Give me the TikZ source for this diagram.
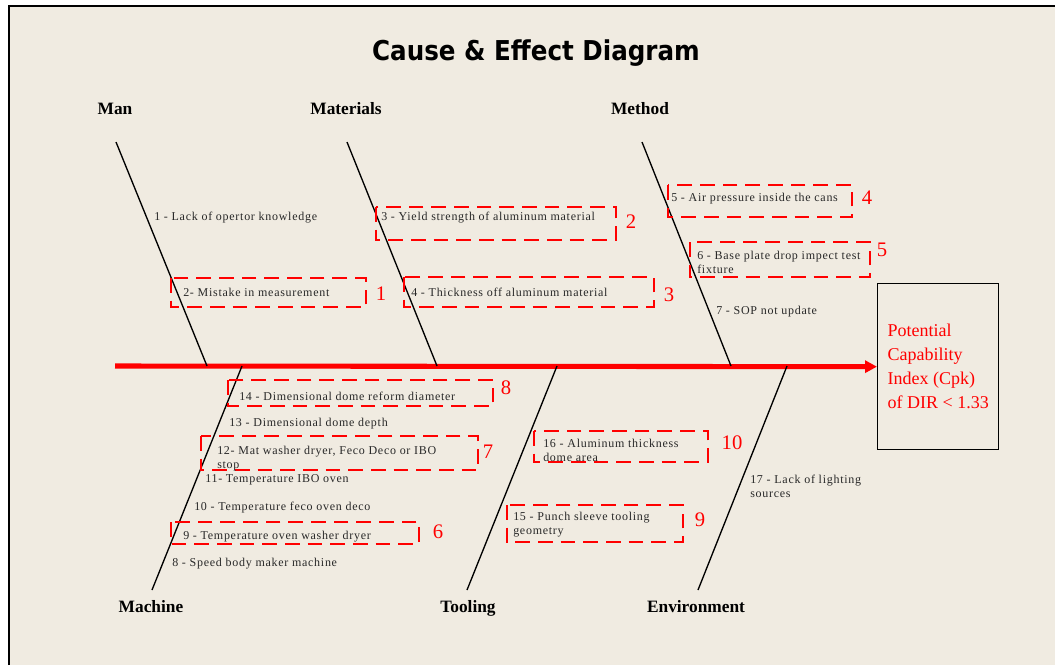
\documentclass[tikz,border=0pt]{standalone}
\usepackage{fontspec}
\setmainfont{Liberation Serif}
\newfontfamily\titlefont{DejaVu Sans Condensed}
\newfontfamily\causefont[LetterSpace=6]{Liberation Serif}
\usetikzlibrary{arrows.meta}
\definecolor{paper}{RGB}{240,235,225}
\definecolor{fishred}{RGB}{255,0,0}
\definecolor{causegray}{RGB}{40,40,40}

\begin{document}
\begin{tikzpicture}[x=0.75pt, y=-0.75pt,
    bone/.style={black, line width=1pt},
    spine/.style={fishred, line width=3.8pt, -{Triangle[length=9pt, width=9pt]}},
    category/.style={anchor=base, font=\bfseries\fontsize{13}{15}\selectfont},
    cause/.style={anchor=west, text=causegray, align=left, inner sep=0pt, yshift=-1.2pt,
        font=\causefont\fontsize{9}{10.5}\selectfont},
    causebox/.style={draw=fishred, line width=1.3pt, dash pattern=on 11pt off 6pt},
    rank/.style={text=fishred, inner sep=0pt, font=\fontsize{15.5}{15.5}\selectfont}]

    % Sheet and frame
    \useasboundingbox (0,0) rectangle (1055,665);
    \fill[paper] (9,6) rectangle (1055,665);
    \draw[line width=1.5pt] (9,665) -- (9,6) -- (1055,6);

    % Title
    \node[font=\titlefont\bfseries\fontsize{20.5}{24}\selectfont] (title) at (536,53) {Cause \& Effect Diagram};

    % Effect
    \node[draw, line width=1pt, anchor=north west, minimum width=90.75pt, minimum height=124.5pt,
        text=fishred, align=left, font=\fontsize{13.5}{18}\selectfont] (effect) at (877,283)
        {Potential\\Capability\\Index (Cpk)\\of DIR < 1.33};

    % Spine
    \coordinate (tail) at (115,366);
    \draw[spine] (tail) -- (effect.west);

    % Categories
    \node[category] (man) at (115,114) {Man};
    \node[category] (materials) at (346,114) {Materials};
    \node[category] (method) at (640,114) {Method};
    \node[category] (machine) at (151,612) {Machine};
    \node[category] (tooling) at (468,612) {Tooling};
    \node[category] (environment) at (696,612) {Environment};

    % Bones
    \coordinate (mantop) at (116,142);    \coordinate (manfoot) at (207,366);
    \coordinate (mattop) at (347,142);    \coordinate (matfoot) at (437,366);
    \coordinate (methtop) at (642,142);   \coordinate (methfoot) at (731,366);
    \coordinate (machtop) at (242,366);   \coordinate (machfoot) at (152,590);
    \coordinate (tooltop) at (557,366);   \coordinate (toolfoot) at (467,590);
    \coordinate (envtop) at (787,366);    \coordinate (envfoot) at (698,590);
    \draw[bone] (mantop) -- (manfoot);
    \draw[bone] (mattop) -- (matfoot);
    \draw[bone] (methtop) -- (methfoot);
    \draw[bone] (machtop) -- (machfoot);
    \draw[bone] (tooltop) -- (toolfoot);
    \draw[bone] (envtop) -- (envfoot);

    % Man causes
    \node[cause] (c1) at (154,216) {1 - Lack of opertor knowledge};
    \draw[causebox] (171,278) rectangle (366,307);
    \node[cause] (c2) at (183,291) {2- Mistake in measurement};
    \node[rank] (r1) at (381,294) {1};

    % Materials causes
    \draw[causebox] (376,207) rectangle (616,240);
    \node[cause] (c3) at (381,216) {3 - Yield strength of aluminum material};
    \node[rank] (r2) at (631,222) {2};
    \draw[causebox] (404,277) rectangle (654,307);
    \node[cause] (c4) at (411,291) {4 - Thickness off aluminum material};
    \node[rank] (r3) at (669,295) {3};

    % Method causes
    \draw[causebox] (668,185) rectangle (852,217);
    \node[cause] (c5) at (671,197) {5 - Air pressure inside the cans};
    \node[rank] (r4) at (867,198) {4};
    \draw[causebox] (690,242) rectangle (870,277);
    \node[cause] (c6) at (697,261) {6 - Base plate drop impect test\\fixture};
    \node[rank] (r5) at (882,250) {5};
    \node[cause] (c7) at (716,310) {7 - SOP not update};

    % Machine causes
    \draw[causebox] (228,380) rectangle (493,406);
    \node[cause] (c14) at (239,395) {14 - Dimensional dome reform diameter};
    \node[rank] (r8) at (506,388) {8};
    \node[cause] (c13) at (229,422) {13 - Dimensional dome depth};
    \draw[causebox] (201,436) rectangle (478,470);
    \node[cause] (c12) at (217,457) {12- Mat washer dryer, Feco Deco or IBO\\stop};
    \node[rank] (r7) at (488,452) {7};
    \node[cause] (c11) at (205,478) {11- Temperature IBO oven};
    \node[cause] (c10) at (194,506) {10 - Temperature feco oven deco};
    \draw[causebox] (171,522) rectangle (419,544);
    \node[cause] (c9) at (183,535) {9 - Temperature oven washer dryer};
    \node[rank] (r6) at (438,532) {6};
    \node[cause] (c8) at (172,562) {8 - Speed body maker machine};

    % Tooling causes
    \draw[causebox] (534,431) rectangle (708,462);
    \node[cause] (c16) at (543,449) {16 - Aluminum thickness\\dome area};
    \node[rank] (r10) at (732,443) {10};
    \draw[causebox] (507,505) rectangle (683,542);
    \node[cause] (c15) at (513,523) {15 - Punch sleeve tooling\\geometry};
    \node[rank] (r9) at (700,520) {9};

    % Environment causes
    \node[cause] (c17) at (750,485) {17 - Lack of lighting\\sources};
\end{tikzpicture}
\end{document}
